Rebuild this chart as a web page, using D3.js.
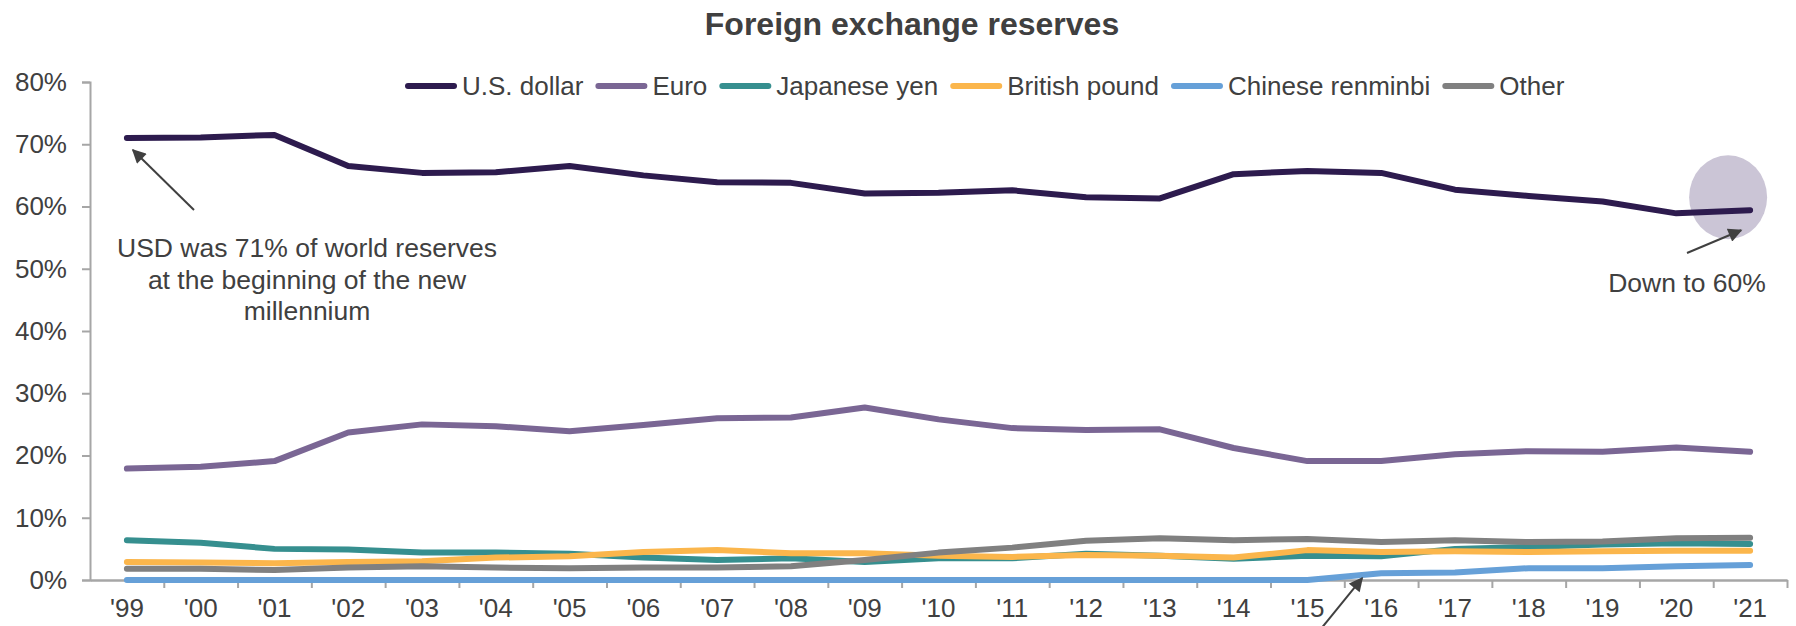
<!DOCTYPE html>
<html>
<head>
<meta charset="utf-8">
<script src="https://cdn.jsdelivr.net/npm/d3@7"></script>
<style>
    body { margin: 0; background: #fff; }
    text { font-family: "Liberation Sans", Arial, sans-serif; fill: #404040; }
</style>
</head>
<body>
<svg id="chart" width="1796" height="626"></svg>
<script>
const years = ["'99", "'00", "'01", "'02", "'03", "'04", "'05", "'06", "'07", "'08", "'09", "'10",
    "'11", "'12", "'13", "'14", "'15", "'16", "'17", "'18", "'19", "'20", "'21"];

const usDollar = [71.0, 71.1, 71.5, 66.5, 65.4, 65.5, 66.5, 65.0, 63.9, 63.8, 62.1, 62.2,
    62.6, 61.5, 61.3, 65.2, 65.7, 65.4, 62.7, 61.7, 60.8, 58.9, 59.4];
const euro = [17.9, 18.2, 19.1, 23.7, 25.0, 24.7, 23.9, 24.9, 26.0, 26.1, 27.7, 25.8,
    24.4, 24.1, 24.2, 21.2, 19.1, 19.1, 20.2, 20.7, 20.6, 21.3, 20.6];
const yen = [6.4, 6.0, 5.0, 4.9, 4.4, 4.4, 4.2, 3.6, 3.2, 3.5, 2.9, 3.5,
    3.5, 4.2, 3.9, 3.4, 3.9, 3.8, 5.0, 5.3, 5.7, 5.9, 5.8];
const pound = [2.9, 2.8, 2.7, 2.9, 3.0, 3.6, 3.8, 4.5, 4.8, 4.3, 4.3, 3.9,
    3.7, 4.0, 3.9, 3.6, 4.8, 4.5, 4.6, 4.5, 4.6, 4.7, 4.7];
const renminbi = [0, 0, 0, 0, 0, 0, 0, 0, 0, 0, 0, 0,
    0, 0, 0, 0, 0, 1.1, 1.2, 1.9, 1.9, 2.2, 2.4];
const other = [1.8, 1.8, 1.6, 2.0, 2.2, 2.0, 1.9, 2.0, 2.0, 2.2, 3.2, 4.4,
    5.2, 6.3, 6.7, 6.4, 6.6, 6.1, 6.4, 6.1, 6.2, 6.7, 6.8];

const yTicks = [0, 10, 20, 30, 40, 50, 60, 70, 80];

const series = [
    { name: "U.S. dollar", values: usDollar, color: "#2d1b4e" },
    { name: "Euro", values: euro, color: "#7a6694" },
    { name: "Japanese yen", values: yen, color: "#368f8f" },
    { name: "British pound", values: pound, color: "#fbb64c" },
    { name: "Chinese renminbi", values: renminbi, color: "#66a0d8" },
    { name: "Other", values: other, color: "#808080" }
];

let margin = { top: 82, right: 9, bottom: 46, left: 90 };
let width = 1796 - margin.left - margin.right;
let height = 626 - margin.top - margin.bottom;

let svg = d3.select("#chart");

let xScale = d3.scaleBand()
    .domain(years)
    .range([0, width])
    .padding(0);

// band edges, for the tick marks between the labels
let xEdge = d3.scaleLinear()
    .domain([0, years.length])
    .range([0, width]);

let yScale = d3.scaleLinear()
    .domain([0, 80])
    .range([height, 0]);

svg.append("defs")
    .append("marker")
    .attr("id", "arrow")
    .attr("viewBox", "0 0 10 10")
    .attr("refX", 9)
    .attr("refY", 5)
    .attr("markerWidth", 7.5)
    .attr("markerHeight", 7)
    .attr("markerUnits", "strokeWidth")
    .attr("orient", "auto")
    .append("path")
    .attr("d", "M0,0 L10,5 L0,10 z")
    .attr("fill", "#404040");

svg.append("text")
    .attr("x", 912)
    .attr("y", 35)
    .attr("text-anchor", "middle")
    .attr("font-size", "32px")
    .attr("font-weight", "bold")
    .text("Foreign exchange reserves");

let g = svg.append("g")
    .attr("transform", "translate(" + margin.left + "," + margin.top + ")");

// highlight bubble behind the last dollar value
g.append("ellipse")
    .attr("cx", xScale("'21") + xScale.bandwidth() / 2 - 22)
    .attr("cy", yScale(59.4) - 13)
    .attr("rx", 39)
    .attr("ry", 42)
    .attr("fill", "#cbc5d6");

g.append("g")
    .call(d3.axisLeft(yScale).tickValues(yTicks).tickFormat(d => d + "%").tickSize(8).tickPadding(15));

g.append("g")
    .attr("transform", "translate(0," + height + ")")
    .call(d3.axisBottom(xScale).tickSize(0).tickPadding(19));

g.append("g")
    .attr("transform", "translate(0," + height + ")")
    .call(d3.axisBottom(xEdge).tickValues(d3.range(1, years.length + 1)).tickFormat("").tickSize(8).tickSizeOuter(0));

g.selectAll(".domain, .tick line")
    .attr("stroke", "#a6a6a6")
    .attr("stroke-width", 2);

g.selectAll(".tick text")
    .attr("font-size", "26px")
    .attr("font-family", "'Liberation Sans', Arial, sans-serif")
    .attr("fill", "#404040");

let line = d3.line()
    .x((d, i) => xScale(years[i]) + xScale.bandwidth() / 2)
    .y(d => yScale(d));

g.selectAll(".series")
    .data(series)
    .enter()
    .append("path")
    .attr("class", "series")
    .attr("d", d => line(d.values))
    .attr("fill", "none")
    .attr("stroke", d => d.color)
    .attr("stroke-width", 6)
    .attr("stroke-linecap", "round")
    .attr("stroke-linejoin", "round");

// legend
let legend = svg.append("g").attr("transform", "translate(405,86)");
let lx = 0;
series.forEach(s => {
    legend.append("line")
        .attr("x1", lx + 3)
        .attr("x2", lx + 49)
        .attr("y1", 0)
        .attr("y2", 0)
        .attr("stroke", s.color)
        .attr("stroke-width", 6)
        .attr("stroke-linecap", "round");
    let t = legend.append("text")
        .attr("x", lx + 57)
        .attr("y", 0)
        .attr("dy", "0.35em")
        .attr("font-size", "26px")
        .text(s.name);
    lx += 57 + t.node().getComputedTextLength() + 12;
});

// annotations
let noteLeft = svg.append("text")
    .attr("text-anchor", "middle")
    .attr("font-size", "26.5px");
["USD was 71% of world reserves", "at the beginning of the new", "millennium"].forEach((s, i) => {
    noteLeft.append("tspan")
        .attr("x", 307)
        .attr("y", 257 + i * 31.5)
        .text(s);
});

svg.append("text")
    .attr("x", 1687)
    .attr("y", 292)
    .attr("text-anchor", "middle")
    .attr("font-size", "26.5px")
    .text("Down to 60%");

let x0 = margin.left + xScale("'99") + xScale.bandwidth() / 2;
let y0 = margin.top + yScale(usDollar[0]);
let x21 = margin.left + xScale("'21") + xScale.bandwidth() / 2;
let y21 = margin.top + yScale(usDollar[22]);
let x16 = margin.left + xScale("'16") + xScale.bandwidth() / 2;
let y16 = margin.top + yScale(renminbi[17]);

let arrows = [
    [194, 210, x0 + 6, y0 + 12],
    [1687, 253, x21 - 9, y21 + 20],
    [1320, 630, x16 - 19, y16 + 5]
];

svg.selectAll(".arrow")
    .data(arrows)
    .enter()
    .append("line")
    .attr("class", "arrow")
    .attr("x1", d => d[0])
    .attr("y1", d => d[1])
    .attr("x2", d => d[2])
    .attr("y2", d => d[3])
    .attr("stroke", "#404040")
    .attr("stroke-width", 2)
    .attr("marker-end", "url(#arrow)");
</script>
</body>
</html>
